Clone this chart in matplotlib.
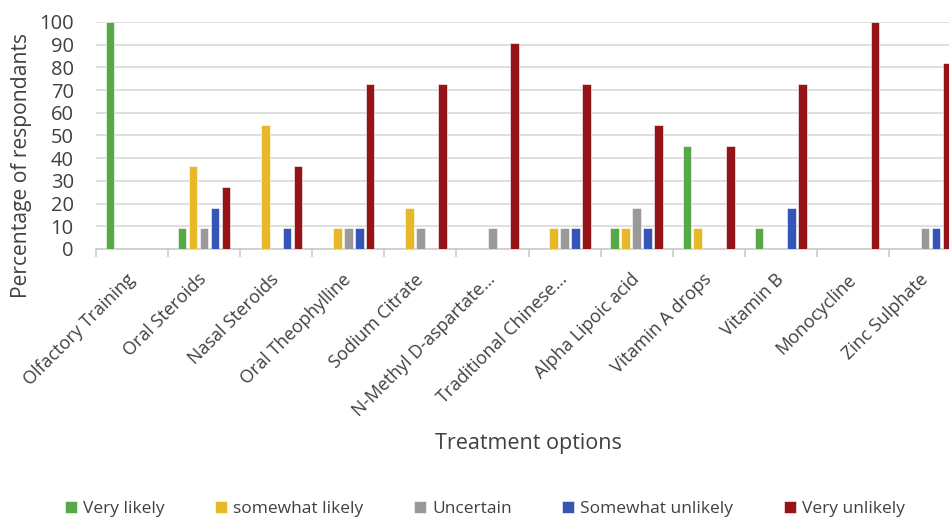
import numpy as np
import matplotlib.pyplot as plt

plt.rcParams["font.family"] = ["Open Sans", "DejaVu Sans"]

# -----------------------------
# Data
# -----------------------------
treatments = [
    "Olfactory Training", "Oral Steroids", "Nasal Steroids", "Oral Theophylline",
    "Sodium Citrate", "N-Methyl D-aspartate…", "Traditional Chinese…",
    "Alpha Lipoic acid", "Vitamin A drops", "Vitamin B", "Monocycline",
    "Zinc Sulphate",
]

very_likely       = [100, 9.1, 0, 0, 0, 0, 0, 9.1, 45.5, 9.1, 0, 0]
somewhat_likely   = [0, 36.4, 54.5, 9.1, 18.2, 0, 9.1, 9.1, 9.1, 0, 0, 0]
uncertain         = [0, 9.1, 0, 9.1, 9.1, 9.1, 9.1, 18.2, 0, 0, 0, 9.1]
somewhat_unlikely = [0, 18.2, 9.1, 9.1, 0, 0, 9.1, 9.1, 0, 18.2, 0, 9.1]
very_unlikely     = [0, 27.3, 36.4, 72.7, 72.7, 90.9, 72.7, 54.5, 45.5, 72.7, 100, 81.8]

series_names = ["Very likely", "somewhat likely", "Uncertain",
                "Somewhat unlikely", "Very unlikely"]
series_values = [very_likely, somewhat_likely, uncertain,
                 somewhat_unlikely, very_unlikely]
colors = ["#57a846", "#e7b928", "#999999", "#3456b6", "#941417"]

# -----------------------------
# Plot
# -----------------------------
fig = plt.figure(figsize=(9.49, 5.19), dpi=100)
# axes run past the right edge of the figure, like the cropped original
ax = fig.add_axes([96 / 949, 1 - 249 / 519, 865 / 949, 227 / 519])

x = np.arange(len(treatments))
step = 0.152
width = 0.118
for i, (name, vals, col) in enumerate(zip(series_names, series_values, colors)):
    ax.bar(x + (i - 2) * step, vals, width, color=col, label=name,
           edgecolor="white", linewidth=0.4, zorder=3)

ax.set_xlim(-0.5, len(treatments) - 0.5)
ax.set_ylim(0, 100)
ax.set_yticks(range(0, 101, 10))
ax.grid(axis="y", color="#d9d9d9", linewidth=1.2, zorder=0)

ax.set_xticks(x)
ax.set_xticklabels(treatments, rotation=45, ha="right", va="center",
                   rotation_mode="anchor", fontsize=13, color="#404040")
ax.set_xticks(np.arange(-0.5, len(treatments)), minor=True)
ax.tick_params(axis="x", which="major", length=0, pad=20)
ax.tick_params(axis="x", which="minor", length=6, color="#cccccc", width=1.2)
ax.tick_params(axis="y", length=0, pad=16, labelsize=14.5, labelcolor="#404040")

for s in ["top", "right", "left"]:
    ax.spines[s].set_visible(False)
ax.spines["bottom"].set_color("#cccccc")
ax.spines["bottom"].set_linewidth(1.2)

fig.text(22 / 949, 1 - 165 / 519, "Percentage of respondants", fontsize=15.2,
         color="#404040", rotation=90, ha="center", va="center")
fig.text(528 / 949, 1 - 443 / 519, "Treatment options", fontsize=15.5,
         color="#404040", ha="center", va="center")

handles, labels = ax.get_legend_handles_labels()
fig.legend(handles, labels, loc="center", ncol=5, frameon=False,
           bbox_to_anchor=(485 / 949, 1 - 509 / 519), fontsize=12.5,
           handlelength=0.7, handleheight=0.7, handletextpad=0.35,
           columnspacing=2.9, labelcolor="#404040")

plt.savefig("out.png", dpi=100)
